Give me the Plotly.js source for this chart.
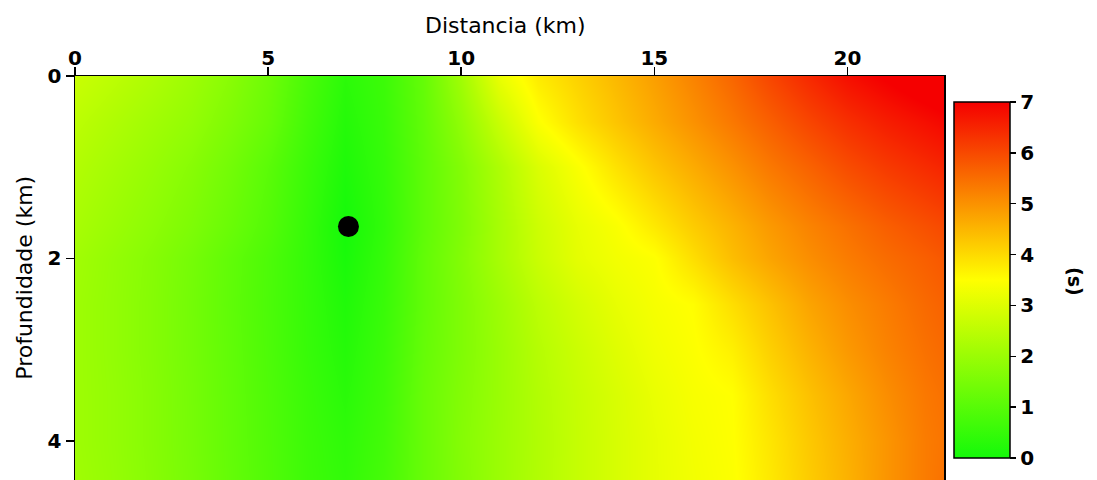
<!DOCTYPE html>
<html>
<head>
<meta charset="utf-8">
<script src="https://cdn.plot.ly/plotly-3.0.1.min.js"></script>
<style>
  html, body { margin: 0; padding: 0; background: #ffffff; }
  #chart { width: 1097px; height: 480px; }
</style>
</head>
<body>
<div id="chart"></div>
<script>
// Grid nodes of the travel-time map
const distanceKm = [0, 1, 2, 3, 4, 5, 6, 7, 8, 9, 10, 11, 12, 13, 14, 15, 16, 17, 18, 19, 20, 21, 22, 22.5];
const depthKm = [0, 0.5, 1, 1.65, 2, 2.5, 3, 3.5, 4, 4.5];

// Travel time (s), one row per depth
const time_z0_0 = [2.7, 2.5, 2.3, 2.05, 1.75, 1.35, 0.8, 0.35, 0.6, 1.2, 2.1, 3.2, 3.78, 4.12, 4.47, 4.82, 5.2, 5.6, 6.05, 6.45, 6.8, 7.05, 7.3, 7.4];
const time_z0_5 = [2.5, 2.3, 2.1, 1.9, 1.6, 1.25, 0.7, 0.25, 0.55, 1.15, 1.85, 2.7, 3.45, 3.92, 4.3, 4.65, 5.0, 5.35, 5.7, 6.05, 6.35, 6.6, 6.8, 6.9];
const time_z1_0 = [2.35, 2.15, 1.95, 1.72, 1.42, 1.05, 0.58, 0.15, 0.5, 1.1, 1.65, 2.3, 2.95, 3.42, 3.9, 4.3, 4.65, 5.0, 5.35, 5.65, 5.95, 6.2, 6.4, 6.5];
const time_z1_65 = [2.2, 2.0, 1.8, 1.57, 1.28, 0.95, 0.5, 0.02, 0.45, 1.1, 1.6, 2.2, 2.75, 3.15, 3.42, 3.8, 4.2, 4.55, 4.9, 5.2, 5.45, 5.7, 5.9, 6.0];
const time_z2_0 = [2.1, 1.9, 1.7, 1.45, 1.15, 0.85, 0.48, 0.08, 0.5, 1.15, 1.65, 2.2, 2.7, 3.1, 3.32, 3.47, 3.95, 4.4, 4.75, 5.05, 5.3, 5.52, 5.7, 5.8];
const time_z2_5 = [2.05, 1.88, 1.68, 1.42, 1.13, 0.83, 0.5, 0.18, 0.55, 1.15, 1.6, 2.05, 2.5, 2.85, 3.15, 3.37, 3.52, 3.95, 4.35, 4.75, 5.05, 5.3, 5.55, 5.65];
const time_z3_0 = [2.05, 1.88, 1.68, 1.43, 1.15, 0.85, 0.52, 0.25, 0.6, 1.2, 1.6, 2.0, 2.4, 2.72, 3.02, 3.28, 3.46, 3.7, 4.15, 4.55, 4.9, 5.2, 5.45, 5.55];
const time_z3_5 = [2.05, 1.9, 1.7, 1.45, 1.17, 0.88, 0.57, 0.32, 0.65, 1.25, 1.65, 2.0, 2.35, 2.65, 2.92, 3.18, 3.39, 3.5, 3.95, 4.35, 4.7, 5.05, 5.35, 5.45];
const time_z4_0 = [2.05, 1.9, 1.7, 1.46, 1.18, 0.9, 0.6, 0.4, 0.7, 1.25, 1.68, 2.02, 2.33, 2.63, 2.9, 3.13, 3.34, 3.48, 3.85, 4.25, 4.6, 4.95, 5.3, 5.4];
const time_z4_5 = [2.08, 1.92, 1.72, 1.48, 1.2, 0.92, 0.62, 0.45, 0.75, 1.25, 1.65, 2.02, 2.35, 2.63, 2.9, 3.13, 3.31, 3.45, 3.8, 4.2, 4.55, 4.95, 5.3, 5.45];

// Source position
const sourceX = [7.08];
const sourceY = [1.65];

const xTicks = [0, 5, 10, 15, 20];
const yTicks = [0, 2, 4];

const FONT = 'DejaVu Sans, Liberation Sans, sans-serif';

const travelTime = [time_z0_0, time_z0_5, time_z1_0, time_z1_65, time_z2_0,
                    time_z2_5, time_z3_0, time_z3_5, time_z4_0, time_z4_5];

const heat = {
  type: 'heatmap',
  x: distanceKm,
  y: depthKm,
  z: travelTime,
  zmin: 0,
  zmax: 7,
  zsmooth: 'best',
  colorscale: [
    [0.0, 'rgb(20,250,10)'],
    [0.5, 'rgb(255,255,0)'],
    [1.0, 'rgb(245,0,0)']
  ],
  hoverinfo: 'skip',
  colorbar: {
    x: 1.0115, xanchor: 'left', xpad: 0,
    y: 0.495, yanchor: 'middle', ypad: 0,
    thickness: 56, thicknessmode: 'pixels',
    len: 356, lenmode: 'pixels',
    outlinewidth: 1.5, outlinecolor: '#000',
    ticks: 'outside', ticklen: 6, tickwidth: 1.5, tickcolor: '#000',
    tick0: 0, dtick: 1,
    tickfont: { family: FONT, size: 20, color: '#000', weight: 'bold' }
  }
};

const source = {
  type: 'scatter',
  mode: 'markers',
  x: sourceX,
  y: sourceY,
  marker: { size: 21, color: '#000' },
  hoverinfo: 'skip',
  showlegend: false
};

const layout = {
  width: 1097,
  height: 480,
  margin: { l: 75, r: 153, t: 76, b: 0, pad: 0 },
  paper_bgcolor: '#ffffff',
  plot_bgcolor: '#ffffff',
  showlegend: false,
  xaxis: {
    side: 'top',
    range: [0, 22.5],
    tickvals: xTicks,
    ticks: 'outside', ticklen: 8, tickwidth: 1.5, tickcolor: '#000',
    ticklabelstandoff: -6,
    showline: true, linecolor: '#000', linewidth: 1.5,
    showgrid: false, zeroline: false,
    tickfont: { family: FONT, size: 20, color: '#000', weight: 'bold' }
  },
  yaxis: {
    range: [4.43, 0],
    tickvals: yTicks,
    ticks: 'outside', ticklen: 8, tickwidth: 1.5, tickcolor: '#000',
    showline: true, mirror: true, linecolor: '#000', linewidth: 1.5,
    showgrid: false, zeroline: false,
    tickfont: { family: FONT, size: 20, color: '#000', weight: 'bold' }
  },
  annotations: [
    {
      text: 'Distancia (km)', xref: 'paper', yref: 'paper',
      x: 0.495, y: 1.126, xanchor: 'center', yanchor: 'middle',
      showarrow: false, font: { family: FONT, size: 22, color: '#000' }
    },
    {
      text: 'Profundidade (km)', xref: 'paper', yref: 'paper',
      x: -0.059, y: 0.5, xanchor: 'center', yanchor: 'middle', textangle: -90,
      showarrow: false, font: { family: FONT, size: 22, color: '#000' }
    },
    {
      text: '(s)', xref: 'paper', yref: 'paper',
      x: 1.1507, y: 0.49, xanchor: 'center', yanchor: 'middle', textangle: 90,
      showarrow: false, font: { family: FONT, size: 19, color: '#000', weight: 'bold' }
    }
  ]
};

Plotly.newPlot('chart', [heat, source], layout, { staticPlot: true, displayModeBar: false });
</script>
</body>
</html>
